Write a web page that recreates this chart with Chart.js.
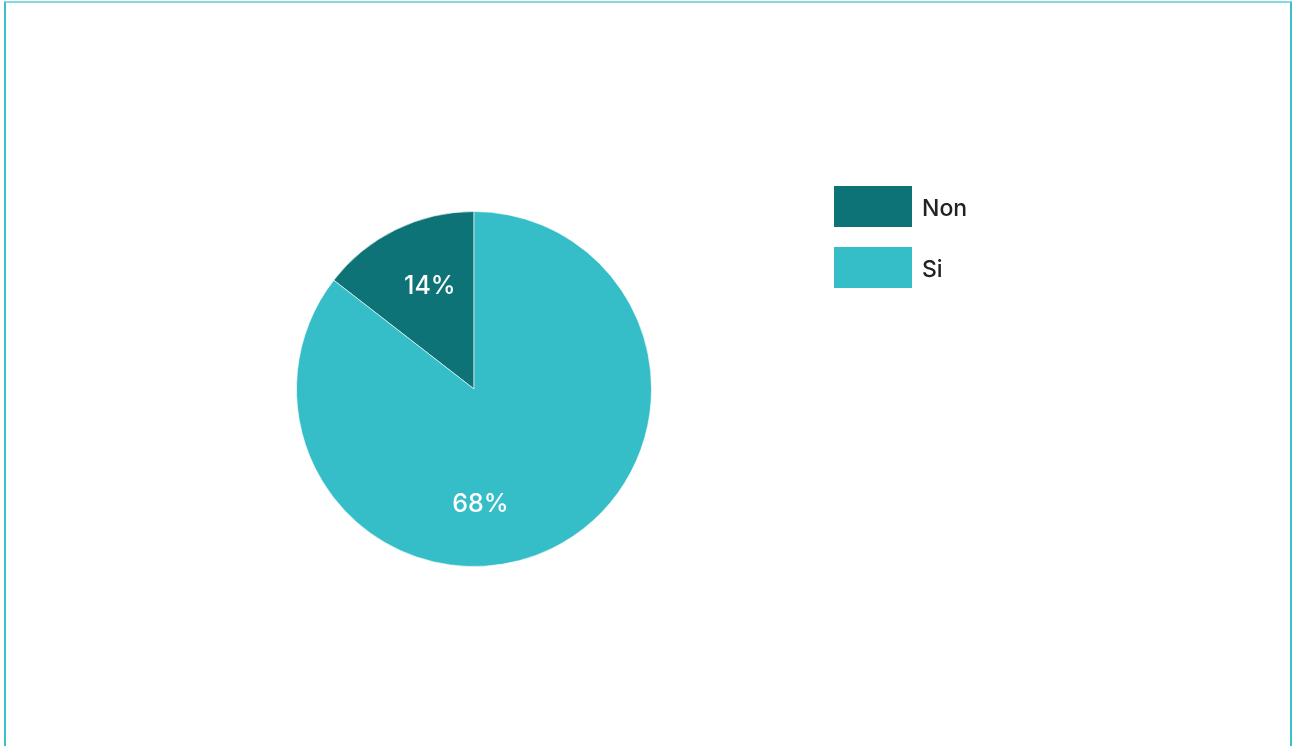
<!DOCTYPE html>
<html>
<head>
<meta charset="utf-8">
<script src="https://cdn.jsdelivr.net/npm/chart.js@4"></script>
<style>
  html, body { margin: 0; padding: 0; background: #fff; width: 1294px; height: 746px; overflow: hidden; }
  #frame { position: absolute; left: 4px; top: 1px; width: 1284px; height: 760px;
           border-left: 2px solid #3bbfca; border-right: 2px solid #3bbfca; border-top: 2px solid #86d9df; }
  #wrap { position: absolute; left: 0; top: 0; width: 1294px; height: 746px; }
  #legend { position: absolute; left: 834px; top: 186px; font-family: Inter, "DejaVu Sans", sans-serif; }
  .item { display: flex; align-items: center; height: 41px; margin-bottom: 20px; }
  .sw { width: 78px; height: 41px; margin-right: 10px; }
  .lbl { font-size: 23px; font-weight: 500; color: #222; position: relative; top: 1px; }
</style>
</head>
<body>
<div id="frame"></div>
<div id="wrap"><canvas id="c" width="1294" height="746"></canvas></div>
<div id="legend"></div>
<script>
// Data
const categories = ['Non', 'Si'];
const sliceShares = [14.5, 85.5];          // share of the circle each slice covers
const sliceLabels = ['14%', '68%'];        // text printed on each slice
const colors = ['#0e7377', '#35bdc8'];

const legend = document.getElementById('legend');
categories.forEach((c, i) => {
  const it = document.createElement('div');
  it.className = 'item';
  it.innerHTML = '<div class="sw" style="background:' + colors[i] + '"></div><span class="lbl">' + c + '</span>';
  legend.appendChild(it);
});

const total = sliceShares.reduce((a, b) => a + b, 0);

const labelPlugin = {
  id: 'sliceLabels',
  afterDatasetsDraw(chart, args, opts) {
    const ctx = chart.ctx;
    const meta = chart.getDatasetMeta(0);
    ctx.save();
    ctx.font = '500 25px Inter, "DejaVu Sans", sans-serif';
    ctx.fillStyle = '#ffffff';
    ctx.textAlign = 'center';
    ctx.textBaseline = 'middle';
    meta.data.forEach((arc, i) => {
      const p = arc.getProps(['x', 'y', 'startAngle', 'endAngle', 'outerRadius']);
      const mid = (p.startAngle + p.endAngle) / 2 + (opts.angleShift[i] || 0);
      const r = p.outerRadius * opts.radiusFrac[i];
      ctx.fillText(sliceLabels[i], p.x + Math.cos(mid) * r, p.y + Math.sin(mid) * r);
    });
    ctx.restore();
  }
};

new Chart(document.getElementById('c'), {
  type: 'pie',
  data: {
    labels: categories,
    datasets: [{
      data: sliceShares,
      backgroundColor: colors,
      borderColor: 'rgba(255,255,255,0.6)',
      borderWidth: 1
    }]
  },
  options: {
    responsive: false,
    animation: false,
    rotation: -(sliceShares[0] / total) * 360,
    layout: { padding: { left: 296, right: 642, top: 211, bottom: 179 } },
    plugins: {
      legend: { display: false },
      tooltip: { enabled: false },
      sliceLabels: { radiusFrac: [0.63, 0.65], angleShift: [0.05, 0.4] }
    }
  },
  plugins: [labelPlugin]
});
</script>
</body>
</html>
